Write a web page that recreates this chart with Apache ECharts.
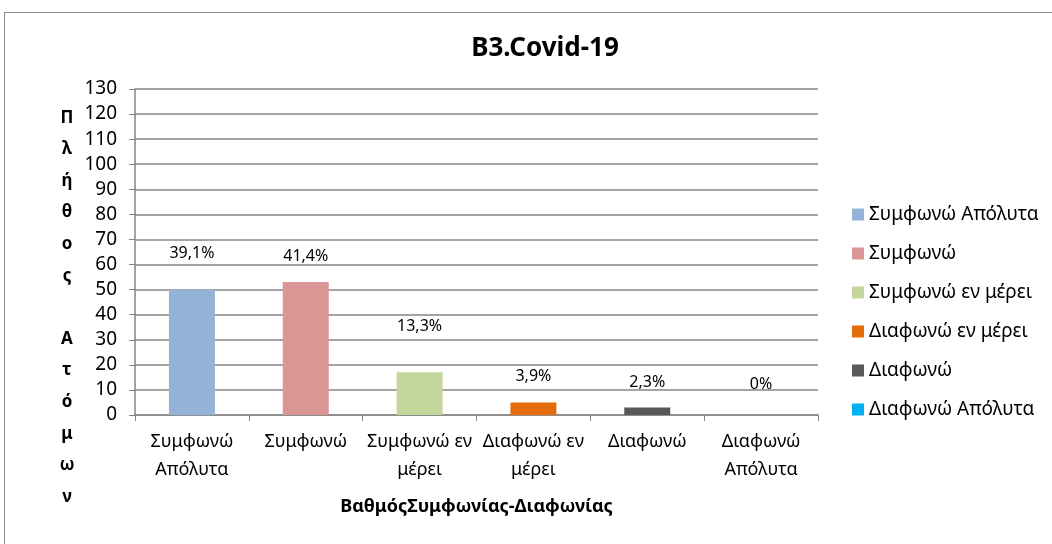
<!DOCTYPE html>
<html>
<head>
<meta charset="utf-8">
<script src="https://cdn.jsdelivr.net/npm/echarts@6/dist/echarts.min.js"></script>
<style>
  html, body { margin: 0; padding: 0; background: #fff; }
  #frame { position: absolute; left: 4px; top: 12px; width: 1100px; height: 600px; border: 1px solid #8c8c8c; }
  #chart { position: absolute; left: 0; top: 0; width: 1052px; height: 544px; }
</style>
</head>
<body>
<div id="frame"></div>
<div id="chart"></div>
<script>
// κατηγορίες και τιμές
const categories = ['Συμφωνώ Απόλυτα', 'Συμφωνώ', 'Συμφωνώ εν μέρει', 'Διαφωνώ εν μέρει', 'Διαφωνώ', 'Διαφωνώ Απόλυτα'];
const axisLabels = ['Συμφωνώ\nΑπόλυτα', 'Συμφωνώ', 'Συμφωνώ εν\nμέρει', 'Διαφωνώ εν\nμέρει', 'Διαφωνώ', 'Διαφωνώ\nΑπόλυτα'];
const counts = [50, 53, 17, 5, 3, 0];
const pctLabels = ['39,1%', '41,4%', '13,3%', '3,9%', '2,3%', '0%'];
const colors = ['#95b3d7', '#d99694', '#c3d69b', '#e46c0a', '#595959', '#00b0f0'];
// απόσταση ετικέτας από την κορυφή της στήλης
const labelGap = [28, 18, 38, 18, 17, 23];

const FONT = 'Noto Sans';

const myChart = echarts.init(document.getElementById('chart'));

const series = categories.map((name, i) => ({
  name: name,
  type: 'bar',
  stack: 'all',
  barWidth: 46,
  itemStyle: { color: colors[i] },
  label: {
    show: true,
    position: 'top',
    distance: labelGap[i],
    color: '#000',
    fontFamily: FONT,
    fontSize: 16,
    formatter: () => pctLabels[i]
  },
  data: counts.map((v, j) => (j === i ? v : null))
}));

const option = {
  animation: false,
  title: [
    {
      text: 'B3.Covid-19',
      left: 540,
      top: 31,
      textAlign: 'center',
      textStyle: { fontFamily: FONT, fontSize: 26, fontWeight: 'bold', color: '#000' }
    },
    {
      text: 'Π\nλ\nή\nθ\nο\nς\n\nΑ\nτ\nό\nμ\nω\nν',
      left: 62,
      top: 97,
      textAlign: 'center',
      textStyle: { fontFamily: FONT, fontSize: 17, fontWeight: 'bold', color: '#000', lineHeight: 31.6 }
    }
  ],
  legend: {
    orient: 'vertical',
    left: 847,
    top: 200,
    itemWidth: 12,
    itemHeight: 12,
    itemGap: 20,
    icon: 'rect',
    textStyle: { fontFamily: FONT, fontSize: 19, color: '#000', lineHeight: 19 },
    data: categories
  },
  grid: {
    left: 135,
    right: 234,
    top: 89,
    bottom: 129
  },
  xAxis: {
    type: 'category',
    data: axisLabels,
    name: 'ΒαθμόςΣυμφωνίας-Διαφωνίας',
    nameLocation: 'middle',
    nameGap: 83,
    nameTextStyle: { fontFamily: FONT, fontSize: 18, fontWeight: 'bold', color: '#000' },
    axisLine: { lineStyle: { color: '#868686', width: 1.5 } },
    axisTick: { show: true, length: 6, lineStyle: { color: '#868686' } },
    axisLabel: { fontFamily: FONT, fontSize: 18, color: '#000', margin: 13, lineHeight: 28, interval: 0 }
  },
  yAxis: {
    type: 'value',
    min: 0,
    max: 130,
    interval: 10,
    axisLine: { show: true, lineStyle: { color: '#868686', width: 1.5 } },
    axisTick: { show: true, length: 6, lineStyle: { color: '#868686' } },
    splitLine: { lineStyle: { color: '#868686', width: 1.5 } },
    axisLabel: { fontFamily: FONT, fontSize: 19, color: '#000', margin: 18 }
  },
  series: series
};

myChart.setOption(option);
</script>
</body>
</html>
